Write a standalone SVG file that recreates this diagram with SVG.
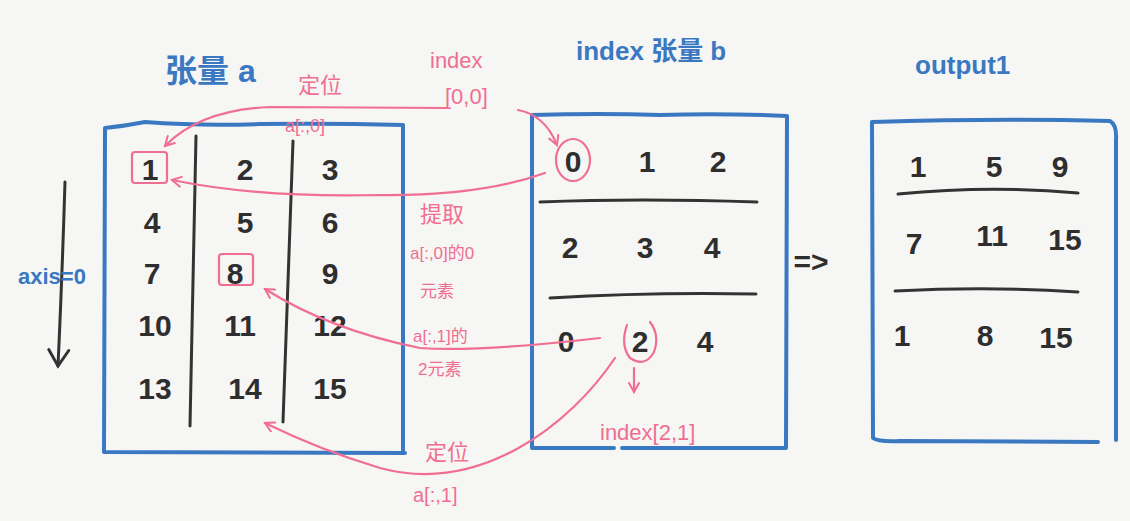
<svg xmlns="http://www.w3.org/2000/svg" width="1130" height="521" viewBox="0 0 1130 521">
<defs>
<style>
.box{fill:none;stroke:#3b78c2;stroke-width:4;stroke-linecap:round;stroke-linejoin:round}
.ink{fill:none;stroke:#333;stroke-width:3;stroke-linecap:round}
.pk{fill:none;stroke:#f06e92;stroke-width:2.2;stroke-linecap:round;stroke-linejoin:round}
.num{font-family:"Liberation Sans","DejaVu Sans",sans-serif;font-size:30px;font-weight:bold;fill:#2e2e2e;text-anchor:middle}
.tb{font-family:"Liberation Sans","Noto Sans CJK SC",sans-serif;fill:#3b78c2;font-weight:bold}
.tp{font-family:"Liberation Sans","Noto Sans CJK SC",sans-serif;fill:#f06e92}
</style>
<marker id="ah" viewBox="0 0 12 12" refX="10" refY="6" markerWidth="12" markerHeight="12" markerUnits="userSpaceOnUse" orient="auto">
<path d="M1,1 L10,6 L1,11" fill="none" stroke="#f06e92" stroke-width="2" stroke-linecap="round"/>
</marker>
<marker id="ak" viewBox="0 0 24 24" refX="20" refY="12" markerWidth="24" markerHeight="24" markerUnits="userSpaceOnUse" orient="auto">
<path d="M4,2 L20,12 L4,22" fill="none" stroke="#333" stroke-width="3" stroke-linecap="round"/>
</marker>
</defs>
<rect width="1130" height="521" fill="#f6f6f4"/>

<g id="title-a"><text class="tb" x="165" y="82" font-size="32">张量 a</text></g>
<g id="title-b"><text class="tb" x="576" y="60" font-size="26">index 张量 b</text></g>
<g id="title-out"><text class="tb" x="915" y="74" font-size="26">output1</text></g>

<g id="axis">
<path class="ink" d="M65,182 Q 62,280 58,366" marker-end="url(#ak)"/>
<text class="tb" x="18" y="284" font-size="22">axis=0</text>
</g>

<g id="tensor-a">
<path class="box" d="M105,128 Q 125,126 145,122 Q 200,126 260,124 Q 330,123 403,125 L 403,452 M105,128 L 104,452 L 405,453"/>
<path class="ink" d="M196,136 L190,426"/>
<path class="ink" d="M293,141 L283,422"/>
<text class="num" x="150" y="180">1</text>
<text class="num" x="245" y="180">2</text>
<text class="num" x="330" y="180">3</text>
<text class="num" x="152" y="233">4</text>
<text class="num" x="245" y="233">5</text>
<text class="num" x="330" y="233">6</text>
<text class="num" x="152" y="284">7</text>
<text class="num" x="235" y="284">8</text>
<text class="num" x="330" y="284">9</text>
<text class="num" x="155" y="336">10</text>
<text class="num" x="240" y="336">11</text>
<text class="num" x="330" y="336">12</text>
<text class="num" x="155" y="399">13</text>
<text class="num" x="245" y="399">14</text>
<text class="num" x="330" y="399">15</text>
<rect x="132" y="152" width="35" height="31" rx="3" class="pk" stroke-width="3"/>
<rect x="219" y="254" width="34" height="31" rx="3" class="pk" stroke-width="3"/>
</g>

<g id="tensor-b">
<path class="box" d="M532,448 L532,115 Q 600,113 660,115 Q 720,113 787,116 L 786,448 L 622,448 M614,448 L 532,448"/>
<path class="ink" d="M540,202 Q 640,198 757,202" stroke-width="4"/>
<path class="ink" d="M550,298 Q 650,292 756,294" stroke-width="4"/>
<text class="num" x="573" y="172">0</text>
<text class="num" x="647" y="172">1</text>
<text class="num" x="718" y="172">2</text>
<text class="num" x="570" y="258">2</text>
<text class="num" x="645" y="258">3</text>
<text class="num" x="712" y="258">4</text>
<text class="num" x="566" y="352">0</text>
<text class="num" x="640" y="352">2</text>
<text class="num" x="705" y="352">4</text>
<ellipse cx="573" cy="160" rx="17" ry="21" class="pk" stroke-width="2.5"/>
<path class="pk" stroke-width="2.5" d="M627,325 Q 620,345 630,358 Q 645,368 654,352 Q 660,335 650,322"/>
</g>

<g id="output1">
<path class="box" d="M872,122 Q 1000,118 1110,121 Q 1117,125 1116,140 L 1116,440 M872,122 L 873,438 Q 878,442 900,441 L 1098,442"/>
<path class="ink" d="M898,194 Q 990,185 1078,193" stroke-width="4"/>
<path class="ink" d="M895,291 Q 990,286 1078,292" stroke-width="4"/>
<text class="num" x="918" y="177">1</text>
<text class="num" x="994" y="177">5</text>
<text class="num" x="1060" y="177">9</text>
<text class="num" x="914" y="254">7</text>
<text class="num" x="992" y="246">11</text>
<text class="num" x="1065" y="250">15</text>
<text class="num" x="902" y="346">1</text>
<text class="num" x="985" y="346">8</text>
<text class="num" x="1056" y="348">15</text>
</g>

<g id="arrow-sym"><text class="num" x="811" y="272" font-size="28">=&gt;</text></g>

<g id="labels">
<text class="tp" x="430" y="68" font-size="22">index</text>
<text class="tp" x="445" y="104" font-size="22">[0,0]</text>
<text class="tp" x="298" y="93" font-size="22">定位</text>
<text class="tp" x="285" y="132" font-size="18">a[:,0]</text>
<text class="tp" x="420" y="222" font-size="22">提取</text>
<text class="tp" x="410" y="259" font-size="17">a[:,0]的0</text>
<text class="tp" x="420" y="297" font-size="17">元素</text>
<text class="tp" x="413" y="342" font-size="17">a[:,1]的</text>
<text class="tp" x="418" y="375" font-size="17">2元素</text>
<text class="tp" x="600" y="440" font-size="22">index[2,1]</text>
<text class="tp" x="425" y="460" font-size="22">定位</text>
<text class="tp" x="413" y="502" font-size="20">a[:,1]</text>
</g>

<g id="connectors">
<path class="pk" d="M447,108 L 270,107 Q 200,110 165,146" marker-end="url(#ah)"/>
<path class="pk" d="M518,110 Q 545,115 557,145" marker-end="url(#ah)"/>
<path class="pk" d="M545,173 Q 480,196 380,195 Q 260,198 172,180" marker-end="url(#ah)"/>
<path class="pk" d="M600,338 Q 480,352 420,348 Q 330,330 265,289" marker-end="url(#ah)"/>
<path class="pk" d="M615,358 C 570,425 480,495 380,468 Q 320,450 265,423" marker-end="url(#ah)"/>
<path class="pk" d="M634,368 L 634,392" marker-end="url(#ah)" stroke-width="2.5"/>
</g>
</svg>
